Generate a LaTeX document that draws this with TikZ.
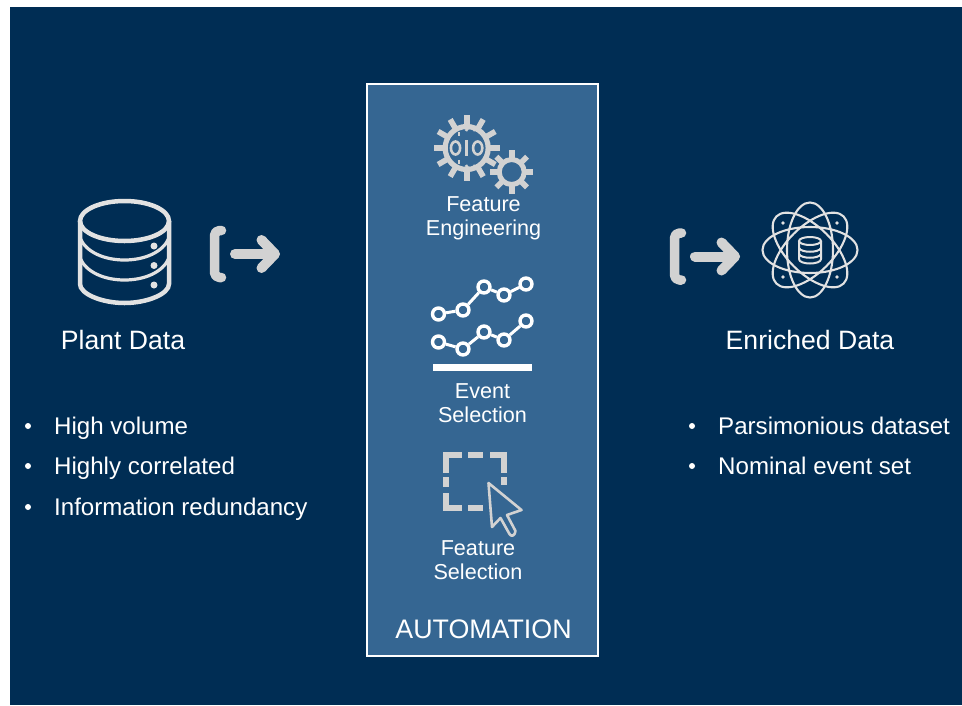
\documentclass[tikz,border=0pt]{standalone}
\usepackage{fontspec}
\setmainfont{Liberation Sans}
\definecolor{navy}{HTML}{002D54}
\definecolor{panel}{HTML}{356692}
\definecolor{icon}{HTML}{D2D2D2}
\definecolor{iconb}{HTML}{E2E2E2}
\tikzset{
  lab/.style={text=white,font=\fontsize{26.6}{30}\selectfont,inner sep=0pt,anchor=center},
  bul/.style={text=white,font=\fontsize{24.1}{28}\selectfont,inner sep=0pt,anchor=base west},
  sm/.style={text=white,font=\fontsize{21.6}{24}\selectfont,inner sep=0pt,anchor=center,align=center},
  dot/.style={circle,fill=white,inner sep=0pt,minimum size=6pt},
  brk/.style={draw=icon,line width=9.5pt,line cap=round,line join=round,rounded corners=5pt},
  cyl/.style={draw=iconb,line width=4.5pt},
  ring/.style={circle,draw=white,line width=3.4pt,fill=panel,inner sep=0pt,minimum size=12pt},
  orbit/.style={draw=iconb,line width=2.1pt},
  fsel/.style={draw=icon,line width=6pt},
}
\newcommand{\gearicon}[6]{% x y body-radius teeth outer-radius body-width
  \foreach \a in {1,...,#4}{
    \draw[draw=icon,line width=5.6pt] ({#1+#3*cos(\a*360/#4)},{#2+#3*sin(\a*360/#4)}) -- ({#1+#5*cos(\a*360/#4)},{#2+#5*sin(\a*360/#4)});
  }
  \draw[draw=icon,line width=#6pt] (#1,#2) circle[radius=#3];
}
\newcommand{\arrowicon}[2]{% x y of bracket centre line
  \draw[brk] (#1+7,#2-23.5) -- (#1,#2-23.5) -- (#1,#2+23.5) -- (#1+7,#2+23.5);
  \draw[draw=icon,line width=10pt,line cap=round,line join=round] (#1+20.5,#2) -- (#1+60,#2);
  \draw[draw=icon,line width=10pt,line cap=round,line join=round] (#1+47,#2-14) -- (#1+60.5,#2) -- (#1+47,#2+14);
}
\begin{document}
\begin{tikzpicture}[x=1pt,y=-1pt]
\useasboundingbox (0,0) rectangle (962,705);
\fill[white] (0,0) rectangle (962,705);
\fill[navy] (10,7) rectangle (962,705);
\draw[draw=white,fill=panel,line width=2.4pt] (367,84) rectangle (598,656);

% database icon
\draw[cyl] (80,221) -- (80,284) .. controls (80,294) and (102,303) .. (124.5,303) .. controls (147,303) and (169,294) .. (169,284) -- (169,221);
\draw[cyl] (124.5,221) ellipse[x radius=44.5,y radius=20];
\draw[draw=iconb,line width=3.2pt] (80,238) .. controls (86,252) and (104,260) .. (124.5,260) .. controls (145,260) and (163,252) .. (169,238);
\draw[draw=iconb,line width=3.2pt] (80,258) .. controls (86,272) and (104,280) .. (124.5,280) .. controls (145,280) and (163,272) .. (169,258);
\fill[iconb] (154,246) circle[radius=3.5] (154,265.5) circle[radius=3.5] (154,285) circle[radius=3.5];

\arrowicon{214.5}{254}
\arrowicon{674.5}{256.5}

% atom icon
\begin{scope}[shift={(810,250)}]
\foreach \r in {0,45,90,135}{
  \draw[orbit,rotate=\r] (0,0) ellipse[x radius=47.5,y radius=23];
}
\draw[draw=iconb,line width=2pt] (-11,-9) -- (-11,9) .. controls (-11,15) and (11,15) .. (11,9) -- (11,-9);
\draw[draw=iconb,line width=2pt] (0,-9) ellipse[x radius=11,y radius=4];
\draw[draw=iconb,line width=2pt] (-11,-2) .. controls (-9,3) and (9,3) .. (11,-2);
\draw[draw=iconb,line width=2pt] (-11,4) .. controls (-9,9) and (9,9) .. (11,4);
\fill[iconb] (-27,-27) circle[radius=1.9] (27,-27) circle[radius=1.9] (-27,27) circle[radius=1.9] (27,27) circle[radius=1.9];
\end{scope}

% gears
\gearicon{466.7}{148}{21.5}{12}{33}{5.2}
\gearicon{511.7}{172}{12.5}{8}{21.7}{5}
\begin{scope}[draw=icon,line width=2.6pt]
\draw[icon] (455.5,148) ellipse[x radius=4.6,y radius=6.5];
\draw[icon] (477.7,148) ellipse[x radius=4.6,y radius=6.5];
\draw[icon] (466.7,140) -- (466.7,156);
\draw[icon] (466,131) arc[start angle=180,end angle=360,x radius=4.5,y radius=3.5];
\draw[icon] (466,165) arc[start angle=180,end angle=0,x radius=4.5,y radius=3.5];
\draw[icon] (459,132) -- (459,136);
\draw[icon] (459,160) -- (459,164);
\end{scope}

% event selection icon
\node[ring] (a1) at (438.5,314) {};
\node[ring] (a2) at (463,310) {};
\node[ring] (a3) at (484,287) {};
\node[ring] (a4) at (504,295) {};
\node[ring] (a5) at (526,284) {};
\node[ring] (b1) at (438.5,342) {};
\node[ring] (b2) at (463,349) {};
\node[ring] (b3) at (484,332) {};
\node[ring] (b4) at (504,340) {};
\node[ring] (b5) at (526,321) {};
\draw[draw=white,line width=3pt] (a1)--(a2) (a2)--(a3) (a3)--(a4) (a4)--(a5) (b1)--(b2) (b2)--(b3) (b3)--(b4) (b4)--(b5);
\fill[white] (433,364) rectangle (532,371);

% feature selection icon
\draw[fsel] (446,473) -- (446,455) -- (462,455);
\draw[fsel] (468,455) -- (483,455);
\draw[fsel] (490,455) -- (504,455) -- (504,473);
\draw[fsel] (446,477) -- (446,487);
\draw[fsel] (446,493) -- (446,508) -- (462,508);
\draw[fsel] (468,508) -- (483,508);
\draw[fsel] (504,477) -- (504,485);
\draw[draw=icon,fill=panel,line width=2.6pt,line join=round] (488.5,483) -- (521.5,510) -- (507,515) -- (515.5,531) .. controls (515,536) and (511,537) .. (509.5,534) -- (500.5,518) -- (492,527) -- cycle;

% texts
\node[sm] (fe) at (483.5,218) {Feature\\[0.2pt]Engineering};
\node[sm] (es) at (482.5,403) {Event\\[0.2pt]Selection};
\node[sm] (fs) at (478,560) {Feature\\[0.2pt]Selection};
\node[lab,font=\fontsize{26.8}{30}\selectfont] (auto) at (483.5,629) {AUTOMATION};
\node[lab] (plant) at (123,340) {Plant Data};
\node[lab] (enr) at (810,340) {Enriched Data};

\node[dot] (d1) at (28,426) {};
\node[dot] (d2) at (28,466) {};
\node[dot] (d3) at (28,507) {};
\node[dot] (d4) at (692,426) {};
\node[dot] (d5) at (692,466) {};
\node[bul] (t1) at (54,434) {High volume};
\node[bul] (t2) at (54,474) {Highly correlated};
\node[bul] (t3) at (54,515.5) {Information redundancy};
\node[bul] (t4) at (718,434) {Parsimonious dataset};
\node[bul] (t5) at (718,474) {Nominal event set};
\end{tikzpicture}
\end{document}
